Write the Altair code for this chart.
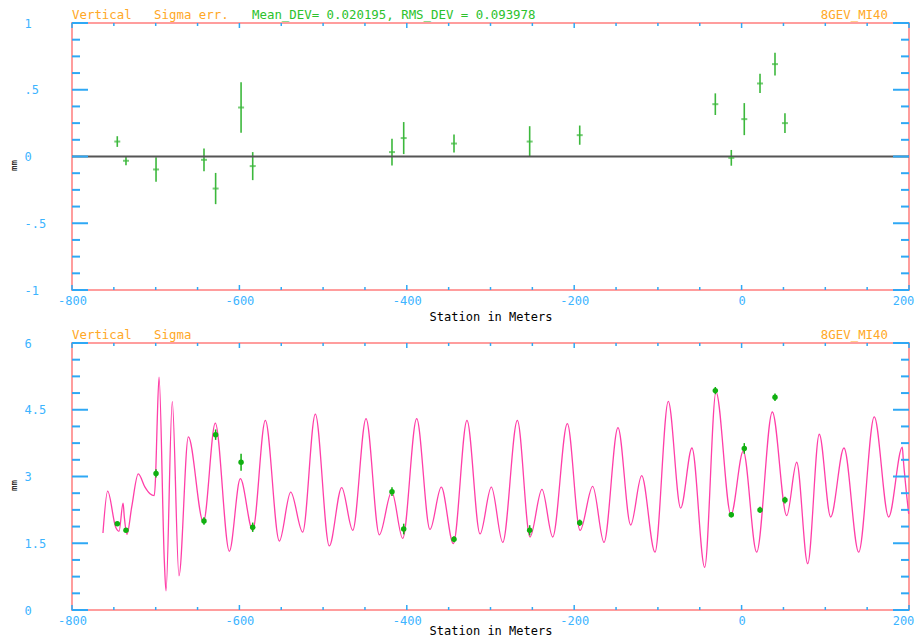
import altair as alt
import pandas as pd

# ---------------- data ----------------
station = [-745.9, -735.5, -699.6, -642.3, -628.4, -598.0, -584.1, -417.7, -403.7,
           -343.6, -253.2, -193.4, -31.4, -12.3, 3.2, 22.0, 39.9, 51.8]
dev = [0.112, -0.032, -0.097, -0.025, -0.240, 0.367, -0.072, 0.033, 0.138,
       0.097, 0.112, 0.160, 0.392, -0.010, 0.280, 0.547, 0.692, 0.250]
dev_err = [0.040, 0.034, 0.092, 0.085, 0.117, 0.190, 0.105, 0.100, 0.120,
           0.067, 0.115, 0.072, 0.081, 0.059, 0.120, 0.072, 0.085, 0.074]
sigma_meas = [1.94, 1.79, 3.07, 2.00, 3.94, 3.32, 1.86, 2.66, 1.82,
              1.59, 1.79, 1.96, 4.93, 2.14, 3.63, 2.25, 4.78, 2.47]

curve_s = [-763.0, -757.4, -747.8, -743.8, -739.0, -737.5, -734.3, -728.7, -720.8,
           -712.8, -706.8, -701.7, -700.0, -698.4, -696.0, -689.7, -687.7, -680.2,
           -672.2, -661.0, -643.0, -628.8, -612.0, -598.9, -584.1, -569.0, -552.3,
           -538.7, -524.4, -509.3, -492.6, -477.8, -464.6, -448.7, -432.8, -418.0,
           -404.9, -388.2, -372.3, -358.8, -344.4, -328.1, -312.5, -299.0, -285.4,
           -267.9, -252.8, -238.5, -225.7, -208.2, -193.0, -177.9, -164.4, -147.7,
           -132.5, -119.4, -103.5, -87.6, -72.8, -59.3, -44.1, -30.6, -12.7,
           2.0, 18.0, 36.7, 53.9, 65.8, 79.0, 92.8, 106.4, 122.3,
           139.9, 158.5, 175.7, 192.0, 193.2, 199.6]
curve_sigma = [1.73, 2.67, 1.86, 1.77, 2.40, 2.09, 1.70, 2.31, 3.06,
               2.76, 2.61, 2.57, 3.06, 4.11, 5.23, 1.11, 0.43, 4.68,
               0.77, 3.89, 1.97, 4.20, 1.32, 2.95, 1.79, 4.26, 1.55,
               2.65, 1.75, 4.40, 1.44, 2.75, 1.79, 4.30, 1.69, 2.66,
               1.61, 4.30, 1.81, 2.76, 1.49, 4.26, 1.71, 2.76, 1.52,
               4.26, 1.64, 2.71, 1.64, 4.19, 1.79, 2.78, 1.52, 4.10,
               1.91, 3.02, 1.30, 4.69, 2.29, 3.64, 0.96, 4.90, 2.14,
               3.57, 1.30, 4.45, 2.12, 3.32, 1.04, 3.95, 2.09, 3.64,
               1.30, 4.34, 2.09, 3.66, 3.38, 2.16]

x_major = [-800, -600, -400, -200, 0, 200]
x_minor = [-750, -700, -650, -550, -500, -450, -350, -300, -250, -150, -100, -50, 50, 100, 150]
top_y_major = [-1, -0.5, 0, 0.5, 1]
top_y_minor = [-0.875, -0.75, -0.625, -0.375, -0.25, -0.125, 0.125, 0.25, 0.375, 0.625, 0.75, 0.875]
bot_y_major = [0, 1.5, 3, 4.5, 6]
bot_y_minor = [0.375, 0.75, 1.125, 1.875, 2.25, 2.625, 3.375, 3.75, 4.125, 4.875, 5.25, 5.625]
zero_line = [0.0]

NB = "\u00a0"
top_title_left = ["Vertical" + NB * 3 + "Sigma" + NB + "err."]
top_title_mid = ["Mean_DEV=" + NB + "0.020195," + NB + "RMS_DEV" + NB + "=" + NB + "0.093978"]
bot_title_left = ["Vertical" + NB * 3 + "Sigma"]
title_right = ["8GEV_MI40"]
x_title = "Station in Meters"
y_title = "mm"

# ---------------- style ----------------
W, H = 837, 267
FONT = "DejaVu Sans Mono"
TICK = "#2fa8f5"
LABEL = "#3cb4ff"
ORANGE = "#ffa826"
GREEN_TXT = "#2cc22c"
FRAME = "#ff9d9d"

xscale = alt.Scale(domain=[-800, 200], nice=False, zero=False)


def x_axis(title_y):
    return alt.Axis(title=x_title, values=x_major, labelExpr="'' + datum.value",
                    ticks=False, tickSize=0, domain=False, grid=False,
                    labelColor=LABEL, labelFont=FONT, labelFontSize=12,
                    labelPadding=10, labelBaseline="middle", labelFlush=False,
                    labelOverlap=False,
                    labelOffset={"condition": {"test": "datum.value >= 200", "value": -6}, "value": 0},
                    titleFont=FONT, titleFontSize=12,
                    titleFontWeight="normal", titleColor="#000000",
                    titleX=W / 2, titleY=title_y, titleBaseline="middle", titleAlign="center")


def y_axis(vals):
    return alt.Axis(title=y_title, values=vals,
                    labelExpr="replace('' + datum.value, '0.', '.')",
                    ticks=False, tickSize=0, domain=False, grid=False,
                    labelColor=LABEL, labelFont=FONT, labelFontSize=12,
                    labelAlign="left", labelPadding=48, labelBaseline="middle",
                    labelFlush=False, labelOverlap=False,
                    titleFont=FONT, titleFontSize=9, titleFontWeight="normal",
                    titleColor="#000000", titleAngle=270, titleX=-59, titleY=142,
                    titleBaseline="middle", titleAlign="center")


def tick_layers(ymaj, ymin, yscale):
    layers = []
    for vals, ln in ((ymaj, 16), (ymin, 8)):
        base = alt.Chart(pd.DataFrame({"v": vals})).mark_rule(color=TICK, strokeWidth=2)
        yenc = alt.Y("v:Q", scale=yscale)
        layers.append(base.encode(y=yenc, x=alt.value(0), x2=alt.value(ln)))
        layers.append(base.encode(y=yenc, x=alt.value(W - ln), x2=alt.value(W)))
    for vals, ln in ((x_major, 5), (x_minor, 3)):
        base = alt.Chart(pd.DataFrame({"v": vals})).mark_rule(color=TICK, strokeWidth=1.5)
        xenc = alt.X("v:Q", scale=xscale)
        layers.append(base.encode(x=xenc, y=alt.value(0), y2=alt.value(ln)))
        layers.append(base.encode(x=xenc, y=alt.value(H - ln), y2=alt.value(H)))
    return layers


def title_layers(left_txt):
    out = []
    out.append(alt.Chart(pd.DataFrame({"t": left_txt})).mark_text(
        font=FONT, fontSize=12.4, color=ORANGE, align="left", baseline="middle"
    ).encode(text="t:N", x=alt.value(0), y=alt.value(-8)))
    out.append(alt.Chart(pd.DataFrame({"t": title_right})).mark_text(
        font=FONT, fontSize=12.4, color=ORANGE, align="right", baseline="middle"
    ).encode(text="t:N", x=alt.value(816), y=alt.value(-8)))
    return out


# ---------------- top panel ----------------
top_scale = alt.Scale(domain=[-1, 1], nice=False, zero=False)
pts = pd.DataFrame({"s": station, "dev": dev,
                    "lo": [d - e for d, e in zip(dev, dev_err)],
                    "hi": [d + e for d, e in zip(dev, dev_err)],
                    "sig": sigma_meas,
                    "slo": [d - e for d, e in zip(sigma_meas, dev_err)],
                    "shi": [d + e for d, e in zip(sigma_meas, dev_err)]})

zero = alt.Chart(pd.DataFrame({"z": zero_line})).mark_rule(color="#555555", strokeWidth=2).encode(
    y=alt.Y("z:Q", scale=top_scale), x=alt.value(0), x2=alt.value(W))

err_bars = alt.Chart(pts).mark_rule(color="#3cb83c", strokeWidth=1.6).encode(
    x=alt.X("s:Q", scale=xscale, axis=x_axis(26)),
    y=alt.Y("lo:Q", scale=top_scale, axis=y_axis(top_y_major)),
    y2="hi:Q")
err_center = alt.Chart(pts).mark_tick(color="#3cb83c", orient="horizontal", size=6, thickness=2).encode(
    x=alt.X("s:Q", scale=xscale),
    y=alt.Y("dev:Q", scale=top_scale))
mid_title = alt.Chart(pd.DataFrame({"t": top_title_mid})).mark_text(
    font=FONT, fontSize=12.4, color=GREEN_TXT, align="left", baseline="middle"
).encode(text="t:N", x=alt.value(180), y=alt.value(-8))

top = alt.layer(err_bars, zero, err_center, *tick_layers(top_y_major, top_y_minor, top_scale),
                *title_layers(top_title_left), mid_title).properties(width=W, height=H)

# ---------------- bottom panel ----------------
bot_scale = alt.Scale(domain=[0, 6], nice=False, zero=False)
curve = alt.Chart(pd.DataFrame({"s": curve_s, "sigma": curve_sigma})).mark_line(
    color="#ff3fa8", strokeWidth=1.3, interpolate="monotone").encode(
    x=alt.X("s:Q", scale=xscale, axis=x_axis(20.5)),
    y=alt.Y("sigma:Q", scale=bot_scale, axis=y_axis(bot_y_major)))
sig_err = alt.Chart(pts).mark_rule(color="#10b010", strokeWidth=1.5).encode(
    x=alt.X("s:Q", scale=xscale),
    y=alt.Y("slo:Q", scale=bot_scale), y2="shi:Q")
sig_pts = alt.Chart(pts).mark_circle(color="#10b010", size=30, opacity=1).encode(
    x=alt.X("s:Q", scale=xscale),
    y=alt.Y("sig:Q", scale=bot_scale))

bottom = alt.layer(curve, sig_err, sig_pts, *tick_layers(bot_y_major, bot_y_minor, bot_scale),
                   *title_layers(bot_title_left)).properties(width=W, height=H)

chart = alt.vconcat(top, bottom, spacing=5).properties(
    padding={"left": 0, "top": 0, "right": 0, "bottom": 0}, background="white"
).configure_view(stroke=FRAME, strokeWidth=2)

chart.save("out.html", embed_options={"renderer": "svg", "actions": False})
